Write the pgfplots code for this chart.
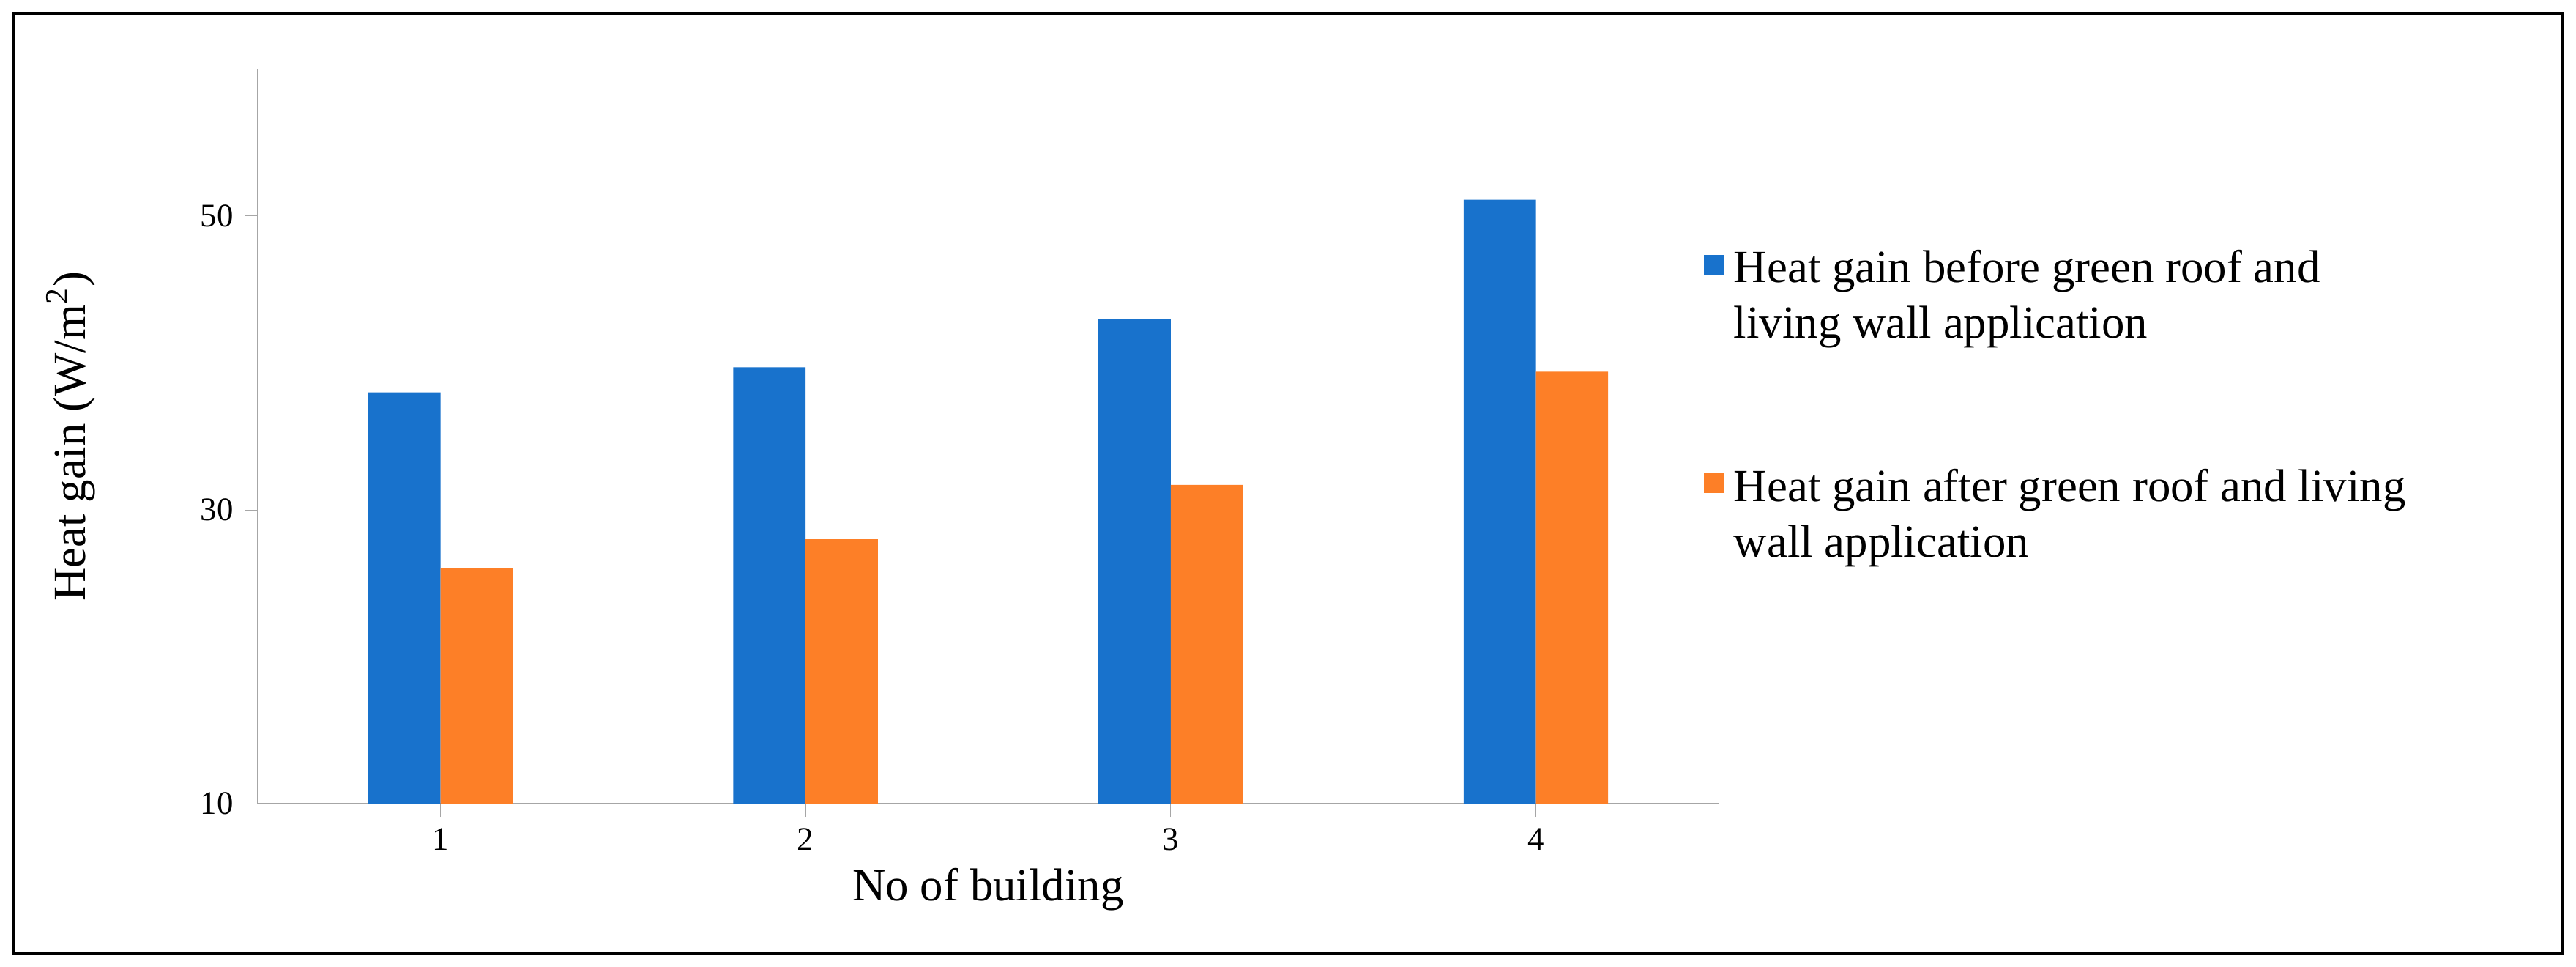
\documentclass[border=0pt]{standalone}
\usepackage{pgfplots}
\pgfplotsset{compat=1.18}
\usepackage{fontspec}
\setmainfont{Liberation Serif}
\definecolor{cblue}{RGB}{24,114,204}
\definecolor{corange}{RGB}{253,127,39}
\begin{document}
\begin{tikzpicture}[x=1pt,y=1pt]
\path[use as bounding box] (-78.5,-49.5) rectangle (705.5,244.5);
\draw[black,line width=0.8pt] (-74.5,-45.5) rectangle (701.5,240.5);
\begin{axis}[at={(0,0)},anchor=origin,
  width=444.5pt,height=223.5pt,scale only axis,
  xmin=0.5,xmax=4.5,ymin=10,ymax=60,
  axis x line*=bottom, axis y line*=left,
  axis line style={gray!70},
  ytick={10,30,50}, xtick={1,2,3,4},
  tick style={gray!70},
  major tick length=4pt,
  tick align=outside,
  ticklabel style={font=\fontsize{10}{12}\selectfont},
  /pgf/number format/assume math mode=true,
  ybar, bar width=22pt, bar shift auto,
  /pgf/bar shift={0pt},
  xlabel={No of building}, ylabel={Heat gain (W/m\textsuperscript{2})},
  label style={font=\fontsize{14}{17}\selectfont},
  xlabel style={at={(axis description cs:0.5,0)},anchor=north,yshift=-16pt},
  ylabel style={at={(axis description cs:0,0.5)},anchor=south,xshift=0pt,yshift=46pt},
]
\addplot[fill=cblue,draw=none,bar shift=-11pt] coordinates {(1,38) (2,39.7) (3,43) (4,51.1)};
\addplot[fill=corange,draw=none,bar shift=11pt] coordinates {(1,26) (2,28) (3,31.7) (4,39.4)};
\end{axis}
\fill[cblue] (440,161) rectangle (446,167);
\fill[corange] (440,94.5) rectangle (446,100.5);
\node[anchor=west,font=\fontsize{14}{17}\selectfont,align=left,inner sep=0pt] at (449,153.5) {Heat gain before green roof and\\living wall application};
\node[anchor=west,font=\fontsize{14}{17}\selectfont,align=left,inner sep=0pt] at (449,87) {Heat gain after green roof and living\\wall application};
\end{tikzpicture}
\end{document}
